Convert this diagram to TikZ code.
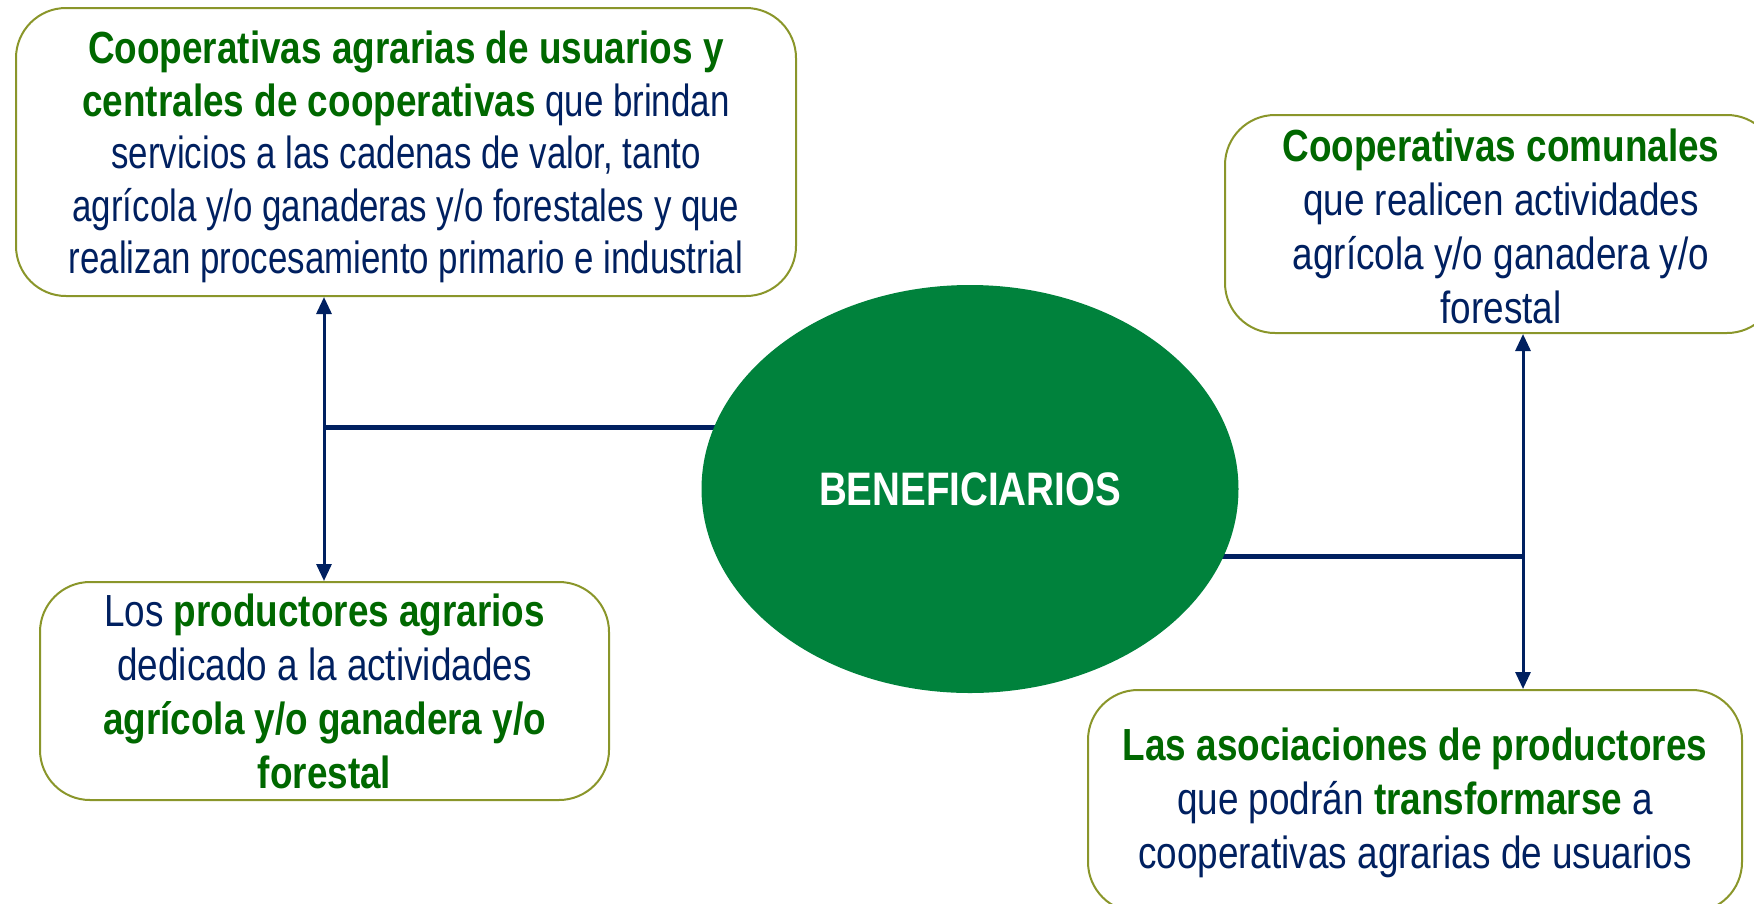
\documentclass[tikz,border=0pt]{standalone}
\usepackage{fontspec}
\setmainfont{Liberation Sans}[FakeStretch=0.82]
\newfontfamily\narrowreg{Liberation Sans}[FakeStretch=0.775,BoldFeatures={FakeStretch=0.82}]
\usetikzlibrary{arrows.meta,backgrounds,shapes.geometric}
\definecolor{navy}{RGB}{0,32,96}
\definecolor{grn}{RGB}{0,104,0}
\definecolor{ellgreen}{RGB}{0,130,60}
\definecolor{olive}{RGB}{138,150,42}
\newcommand{\G}{\bfseries\color{grn}}
\begin{document}
\begin{tikzpicture}[x=1pt,y=-1pt,
  box/.style={draw=olive,line width=2pt,fill=white,rounded corners=50pt,inner sep=0pt},
  boxtext/.style={align=center,text=navy,font=\fontsize{45}{54}\selectfont,inner sep=0pt},
  conn/.style={draw=navy,line width=3pt},
  bar/.style={draw=navy,line width=5pt},
  tip/.style={-{Triangle[length=17pt,width=15pt]}}]
\useasboundingbox (0,0) rectangle (1754,903);
\node[box,minimum width=780pt,minimum height=288pt] (tl) at (406,152) {};
\node[boxtext,font=\narrowreg\fontsize{45}{52.5}\selectfont] (tlt) at (406,157)
  {{\G Cooperativas agrarias de usuarios y}\\
   {\G centrales de cooperativas} que brindan\\
   servicios a las cadenas de valor, tanto\\
   agrícola y/o ganaderas y/o forestales y que\\
   realizan procesamiento primario e industrial};
\node[box,minimum width=552pt,minimum height=218pt] (tr) at (1501,224) {};
\node[boxtext] (trt) at (1501,226)
  {{\G Cooperativas comunales}\\
   que realicen actividades\\
   agrícola y/o ganadera y/o\\
   forestal};
\node[box,minimum width=569pt,minimum height=218pt] (bl) at (324.5,691) {};
\node[boxtext] (blt) at (324.5,691)
  {Los {\G productores agrarios}\\
   dedicado a la actividades\\
   {\G agrícola y/o ganadera y/o}\\
   {\G forestal}};
\node[box,minimum width=654pt,minimum height=222pt] (br) at (1415,801) {};
\node[boxtext] (brt) at (1415,803)
  {{\G Las asociaciones de productores}\\
   que podrán {\G transformarse} a\\
   cooperativas agrarias de usuarios};
\node[ellipse,fill=ellgreen,minimum width=537pt,minimum height=408pt,inner sep=0pt,
  text=white,font=\fontsize{47}{56}\selectfont\bfseries] (ell) at (970,489) {BENEFICIARIOS};
\coordinate (lj) at (324,427);
\coordinate (rj) at (1523,556);
\begin{scope}[on background layer]
  \draw[bar] (lj) -- (lj -| ell.center);
  \draw[bar] (rj) -- (rj -| ell.center);
\end{scope}
\draw[conn,tip] (lj) -- (lj |- tl.south);
\draw[conn,tip] (lj) -- (lj |- bl.north);
\draw[conn,tip] (rj) -- (rj |- tr.south);
\draw[conn,tip] (rj) -- (rj |- br.north);
\end{tikzpicture}
\end{document}
